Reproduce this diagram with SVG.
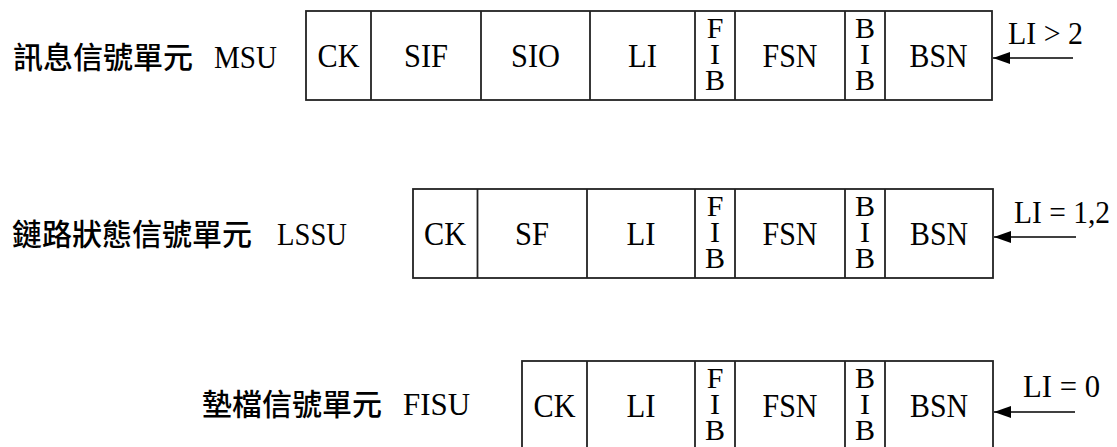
<svg xmlns="http://www.w3.org/2000/svg" width="1117" height="447" viewBox="0 0 1117 447">
<style>
.box{fill:#fff;stroke:#222;stroke-width:1.8}
.ln{stroke:#222;stroke-width:1.8}
text{font-family:"Liberation Serif","Times New Roman",Tinos,"Nimbus Roman","DejaVu Serif",serif;fill:#000}
.t{font-size:33px;text-anchor:middle}
.s{font-size:30px;text-anchor:middle}
.lab{font-size:32px}
text.cjk{font-family:"Noto Sans CJK TC","Noto Sans CJK SC",sans-serif;font-size:30px;font-weight:500}
.arr{stroke:#000;stroke-width:1.6;fill:none;marker-end:url(#ah)}
</style>
<defs>
<marker id="ah" markerWidth="17" markerHeight="12" refX="17" refY="6" orient="auto" markerUnits="userSpaceOnUse">
<path d="M0,0 L17,6 L0,12 Z" fill="#000"/>
</marker>
</defs>

<g id="msu">
<text class="cjk" x="13" y="68">訊息信號單元</text>
<text class="lab" x="214" y="68" textLength="63" lengthAdjust="spacingAndGlyphs">MSU</text>
<rect class="box" x="306" y="11" width="686" height="89"/>
<line class="ln" x1="371" y1="11" x2="371" y2="100"/>
<line class="ln" x1="481" y1="11" x2="481" y2="100"/>
<line class="ln" x1="590" y1="11" x2="590" y2="100"/>
<line class="ln" x1="695" y1="11" x2="695" y2="100"/>
<line class="ln" x1="735" y1="11" x2="735" y2="100"/>
<line class="ln" x1="845" y1="11" x2="845" y2="100"/>
<line class="ln" x1="885" y1="11" x2="885" y2="100"/>
<text class="t" x="338.5" y="67" textLength="42" lengthAdjust="spacingAndGlyphs">CK</text>
<text class="t" x="426" y="67" textLength="44" lengthAdjust="spacingAndGlyphs">SIF</text>
<text class="t" x="535.5" y="67" textLength="49" lengthAdjust="spacingAndGlyphs">SIO</text>
<text class="t" x="642.5" y="67" textLength="29" lengthAdjust="spacingAndGlyphs">LI</text>
<text class="s" x="715" y="38">F</text>
<text class="s" x="715" y="64">I</text>
<text class="s" x="715" y="90">B</text>
<text class="t" x="790" y="67" textLength="55" lengthAdjust="spacingAndGlyphs">FSN</text>
<text class="s" x="865" y="38">B</text>
<text class="s" x="865" y="64">I</text>
<text class="s" x="865" y="90">B</text>
<text class="t" x="938.5" y="67" textLength="58" lengthAdjust="spacingAndGlyphs">BSN</text>
<text class="lab" x="1008" y="44" textLength="75" lengthAdjust="spacingAndGlyphs">LI &gt; 2</text>
</g>

<g id="lssu">
<text class="cjk" x="12" y="245">鏈路狀態信號單元</text>
<text class="lab" x="277" y="245" textLength="70" lengthAdjust="spacingAndGlyphs">LSSU</text>
<rect class="box" x="413" y="189" width="580" height="89"/>
<line class="ln" x1="477.5" y1="189" x2="477.5" y2="278"/>
<line class="ln" x1="587" y1="189" x2="587" y2="278"/>
<line class="ln" x1="695" y1="189" x2="695" y2="278"/>
<line class="ln" x1="735" y1="189" x2="735" y2="278"/>
<line class="ln" x1="845" y1="189" x2="845" y2="278"/>
<line class="ln" x1="885" y1="189" x2="885" y2="278"/>
<text class="t" x="445" y="245" textLength="42" lengthAdjust="spacingAndGlyphs">CK</text>
<text class="t" x="532" y="245" textLength="34" lengthAdjust="spacingAndGlyphs">SF</text>
<text class="t" x="641" y="245" textLength="29" lengthAdjust="spacingAndGlyphs">LI</text>
<text class="s" x="715" y="216">F</text>
<text class="s" x="715" y="242">I</text>
<text class="s" x="715" y="268">B</text>
<text class="t" x="790" y="245" textLength="55" lengthAdjust="spacingAndGlyphs">FSN</text>
<text class="s" x="865" y="216">B</text>
<text class="s" x="865" y="242">I</text>
<text class="s" x="865" y="268">B</text>
<text class="t" x="939" y="245" textLength="58" lengthAdjust="spacingAndGlyphs">BSN</text>
<text class="lab" x="1014" y="223" textLength="96" lengthAdjust="spacingAndGlyphs">LI = 1,2</text>
</g>

<g id="fisu">
<text class="cjk" x="202" y="415">墊檔信號單元</text>
<text class="lab" x="403" y="415" textLength="67" lengthAdjust="spacingAndGlyphs">FISU</text>
<rect class="box" x="522" y="361" width="471" height="89"/>
<line class="ln" x1="587" y1="361" x2="587" y2="450"/>
<line class="ln" x1="695" y1="361" x2="695" y2="450"/>
<line class="ln" x1="735" y1="361" x2="735" y2="450"/>
<line class="ln" x1="845" y1="361" x2="845" y2="450"/>
<line class="ln" x1="885" y1="361" x2="885" y2="450"/>
<text class="t" x="554.5" y="417" textLength="42" lengthAdjust="spacingAndGlyphs">CK</text>
<text class="t" x="641" y="417" textLength="29" lengthAdjust="spacingAndGlyphs">LI</text>
<text class="s" x="715" y="388">F</text>
<text class="s" x="715" y="414">I</text>
<text class="s" x="715" y="440">B</text>
<text class="t" x="790" y="417" textLength="55" lengthAdjust="spacingAndGlyphs">FSN</text>
<text class="s" x="865" y="388">B</text>
<text class="s" x="865" y="414">I</text>
<text class="s" x="865" y="440">B</text>
<text class="t" x="939" y="417" textLength="58" lengthAdjust="spacingAndGlyphs">BSN</text>
<text class="lab" x="1023" y="397" textLength="77" lengthAdjust="spacingAndGlyphs">LI = 0</text>
</g>

<g id="connectors">
<line class="arr" x1="1073" y1="58" x2="993" y2="58"/>
<line class="arr" x1="1076" y1="237" x2="994" y2="237"/>
<line class="arr" x1="1075" y1="412" x2="994" y2="412"/>
</g>
</svg>
